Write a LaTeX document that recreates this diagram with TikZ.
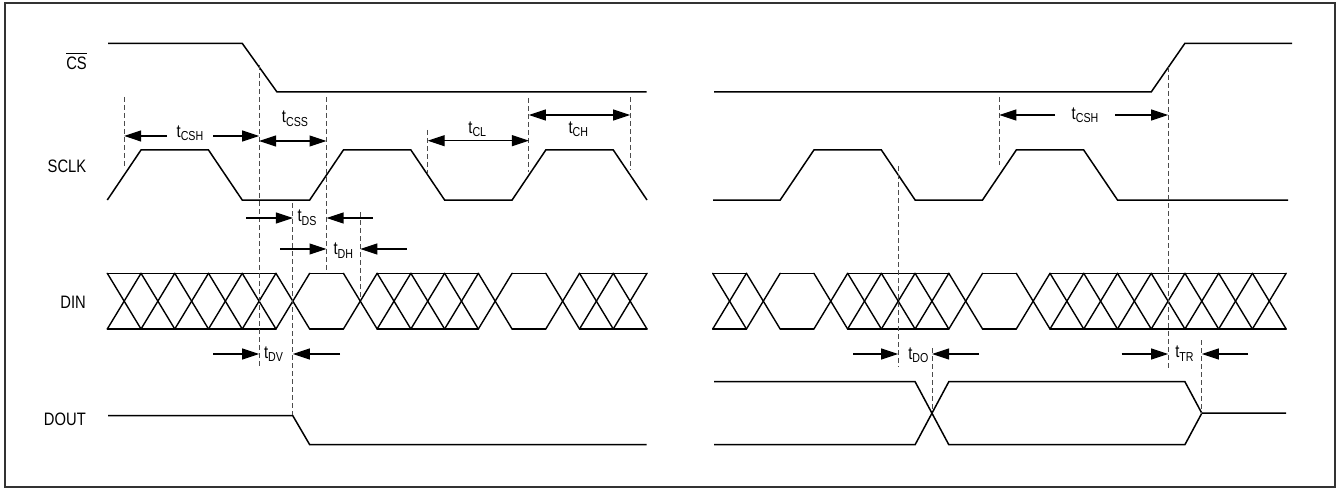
\documentclass[tikz,border=0pt]{standalone}
\usepackage{fontspec}
\setmainfont{Liberation Sans}[FakeStretch=0.82]
\usetikzlibrary{arrows.meta}
\newcommand{\tsubl}[1]{t\raisebox{-3.4pt}{\fontsize{13}{13}\selectfont #1}}
\begin{document}
\begin{tikzpicture}[x=1pt,y=-1pt,
  sigline/.style={line width=1.5pt, black},
  dinline/.style={line width=1.4pt, black, line cap=round},
  vguide/.style={line width=0.9pt, black!70, dash pattern=on 5pt off 3pt},
  tarrow/.style={line width=1.1pt, -{Triangle[length=17pt,width=11pt]}},
  dblarrow/.style={line width=1.1pt, {Triangle[length=17pt,width=11pt]}-{Triangle[length=17pt,width=11pt]}},
  lbl/.style={inner sep=0pt, font=\fontsize{18}{18}\selectfont},
  siglbl/.style={inner sep=0pt, anchor=base east, font=\fontsize{18}{18}\selectfont}]
\useasboundingbox (0,0) rectangle (1340,489);
\draw[line width=1.4pt, black!80] (5,3) rectangle (1335,487);

% signal names
\node[siglbl] (lcs) at (87,69.3) {CS};
\draw[line width=1pt] ([yshift=3.4pt]lcs.north west) -- ([yshift=3.4pt]lcs.north east);
\node[siglbl] (lsclk) at (86.5,172.7) {SCLK};
\node[siglbl] (ldin) at (86,308.3) {DIN};
\node[siglbl] (ldout) at (86,425) {DOUT};

% CS
\draw[sigline] (108,43.3) -- (242.2,43.3) -- (277,92) -- (646.7,92);
\draw[sigline] (714,92) -- (1151.2,92) -- (1184.9,43.3) -- (1292,43.3);

% SCLK
\draw[sigline] (107.3,200) -- (141.0,150) -- (208.5,150) -- (242.2,200) -- (309.7,200) -- (343.4,150) -- (410.9,150) -- (444.6,200) -- (512.1,200) -- (545.8,150) -- (613.3,150) -- (647,200);
\draw[sigline] (713,200) -- (780.2,200) -- (813.9,150) -- (881.4,150) -- (915.1,200) -- (982.5,200) -- (1016.3,150) -- (1083.7,150) -- (1117.5,200) -- (1288,200);

% DIN left
\foreach \a/\b in {0/5,6/7,8/11,12/13,14/16}{
  \draw[dinline] ({107.3+33.73*\a},273.3) -- ({107.3+33.73*\b},273.3);
  \draw[dinline] ({107.3+33.73*\a},329) -- ({107.3+33.73*\b},329);
}
\foreach \k in {0,1,2,3,4,5,7,8,9,10,11,13,14,15}{
  \draw[dinline] ({107.3+33.73*\k},273.3) -- ({107.3+33.73*(\k+1)},329);
  \draw[dinline] ({107.3+33.73*\k},329) -- ({107.3+33.73*(\k+1)},273.3);
}
% DIN right
\foreach \a/\b in {0/1,2/3,4/7,8/9,10/17}{
  \draw[dinline] ({712.7+33.73*\a},273.3) -- ({712.7+33.73*\b},273.3);
  \draw[dinline] ({712.7+33.73*\a},329) -- ({712.7+33.73*\b},329);
}
\foreach \k in {0,1,3,4,5,6,7,9,10,11,12,13,14,15,16}{
  \draw[dinline] ({712.7+33.73*\k},273.3) -- ({712.7+33.73*(\k+1)},329);
  \draw[dinline] ({712.7+33.73*\k},329) -- ({712.7+33.73*(\k+1)},273.3);
}

% DOUT
\draw[sigline] (108,415.7) -- (292.8,415.7) -- (309.7,444.7) -- (646.7,444.7);
\draw[sigline] (714,381.7) -- (915.1,381.7) -- (948.8,444.7) -- (1184.9,444.7) -- (1201.8,413.2) -- (1286,413.2);
\draw[sigline] (714,444.7) -- (915.1,444.7) -- (948.8,381.7) -- (1184.9,381.7) -- (1201.8,413.2);

% dashed guides
\foreach \x/\ya/\yb in {124.2/97/168, 259.1/65/366, 326.5/97/273, 292.8/203/415, 360.3/212/297, 427.7/130/173, 528.9/98/172, 630.1/97/170, 898.2/166/367, 999.4/97/165, 1168.1/67/368, 932/348/412, 1201.8/340/414}
  \draw[vguide] (\x,\ya) -- (\x,\yb);

% timing arrows and labels
\node[lbl] (tcsh1) at (190,133) {\tsubl{CSH}};
\draw[tarrow] (167,136) -- (124.2,136);
\draw[tarrow] (213,136) -- (259.1,136);

\node[lbl] (tcss) at (295,118.8) {\tsubl{CSS}};
\draw[dblarrow] (259.1,141) -- (326.5,141);

\node[lbl] (tcl) at (477.3,129.2) {\tsubl{CL}};
\draw[dblarrow] (427.7,140.7) -- (528.9,140.7);

\node[lbl] (tch) at (578.3,129.5) {\tsubl{CH}};
\draw[dblarrow] (528.9,115) -- (630.1,115);

\node[lbl] (tds) at (307,217.8) {\tsubl{DS}};
\draw[tarrow] (246,218) -- (292.8,218);
\draw[tarrow] (372.7,218) -- (326.5,218);

\node[lbl] (tdh) at (343.3,250.5) {\tsubl{DH}};
\draw[tarrow] (280,249) -- (326.5,249);
\draw[tarrow] (406.7,249) -- (360.3,249);

\node[lbl] (tdv) at (273.5,354.2) {\tsubl{DV}};
\draw[tarrow] (213,354) -- (259.1,354);
\draw[tarrow] (340,354) -- (292.8,354);

\node[lbl] (tcsh2) at (1085,115) {\tsubl{CSH}};
\draw[tarrow] (1055,115) -- (999.4,115);
\draw[tarrow] (1115,115) -- (1168.1,115);

\node[lbl] (tdo) at (918.3,355.3) {\tsubl{DO}};
\draw[tarrow] (853.3,354) -- (898.2,354);
\draw[tarrow] (979,354) -- (932,354);

\node[lbl] (ttr) at (1184.5,353.8) {\tsubl{TR}};
\draw[tarrow] (1121.7,354) -- (1168.1,354);
\draw[tarrow] (1248,354) -- (1201.8,354);
\end{tikzpicture}
\end{document}
